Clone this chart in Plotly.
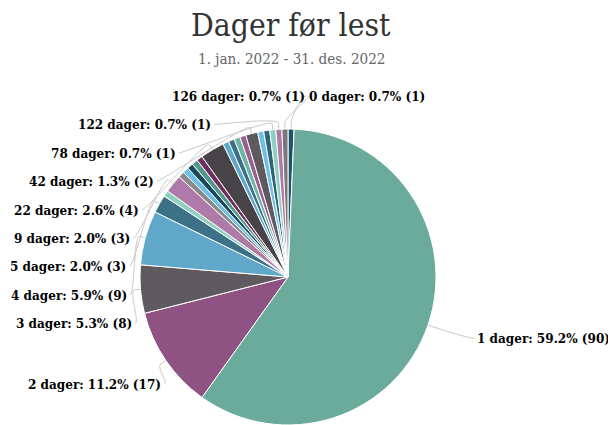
import math
import plotly.graph_objects as go

# ---- data ----
categories = ["0 dager", "1 dager", "2 dager", "3 dager", "4 dager", "5 dager",
              "7 dager", "9 dager", "10 dager", "12 dager", "14 dager", "15 dager",
              "19 dager", "22 dager", "24 dager", "28 dager", "31 dager", "35 dager",
              "42 dager", "56 dager", "63 dager", "78 dager", "122 dager", "126 dager"]
counts = [1, 90, 17, 8, 9, 3,
          1, 3, 1, 1, 1, 1,
          1, 4, 1, 1, 1, 1,
          2, 1, 1, 1, 1, 1]
shown_labels = ["0 dager", "1 dager", "2 dager", "3 dager", "4 dager", "5 dager", "9 dager",
                "22 dager", "42 dager", "78 dager", "122 dager", "126 dager"]

title_text = "Dager før lest"
subtitle_text = "1. jan. 2022 - 31. des. 2022"

# ---- style ----
slice_colors = ["#1f5268", "#6aab9c", "#8e5383", "#5f5a5f", "#5fa8c9", "#3d7188",
                "#8ed0c0", "#b07aa8", "#8a8a8a", "#6cc0e6", "#18485c", "#4f9a86",
                "#6e2f60", "#474347", "#5fa8c9", "#3d7188", "#6fb5a6", "#9a5e90",
                "#5f5a5f", "#6cc0e6", "#2f6478", "#8ed0c0", "#b07aa8", "#7a767a"]
SERIF = "DejaVu Serif Condensed, DejaVu Serif, serif"
BODY = 8                      # default page margin of the html body
W, H = 616 - BODY, 425 - BODY
PIE_CX, PIE_CY, PIE_R = 288, 277, 148   # wanted on screen
LABEL_DIST_X = 31
LABEL_DIST_Y = 41
LABEL_SPACING = 28.4
LEFT_PAD, RIGHT_PAD = 19, 19
CONNECTOR_COLOR = "#c8c8c8"

# pie domain in paper coords (figure coords are screen minus body margin)
dom_x = [(PIE_CX - BODY - PIE_R) / W, (PIE_CX - BODY + PIE_R) / W]
dom_y = [max(0.0, 1 - (PIE_CY - BODY + PIE_R) / H), 1 - (PIE_CY - BODY - PIE_R) / H]

fig = go.Figure(go.Pie(
    labels=categories,
    values=counts,
    sort=False,
    direction="clockwise",
    rotation=0,
    marker=dict(colors=slice_colors, line=dict(color="white", width=1)),
    textinfo="none",
    domain=dict(x=dom_x, y=dom_y),
    showlegend=False,
    hoverinfo="label+value+percent",
))

# ---- data labels (Highcharts-like placement derived from the data) ----
cx = (dom_x[0] + dom_x[1]) / 2 * W
cy = (1 - (dom_y[0] + dom_y[1]) / 2) * H
r = min((dom_x[1] - dom_x[0]) * W, (dom_y[1] - dom_y[0]) * H) / 2
RX = r + LABEL_DIST_X
RY = r + LABEL_DIST_Y
total = sum(counts)

items = []
cum = 0
for name, v in zip(categories, counts):
    phi = (cum + v / 2) / total * 2 * math.pi
    cum += v
    if name not in shown_labels:
        continue
    side = "left" if math.sin(phi) < 0 else "right"
    items.append(dict(name=name, v=v, phi=phi, side=side,
                      ynat=cy - RY * math.cos(phi)))


def distribute(targets, size, lo, hi):
    clusters = [dict(idx=[i], start=t) for i, t in enumerate(targets)]
    changed = True
    while changed:
        changed = False
        for k in range(len(clusters) - 1):
            a, b = clusters[k], clusters[k + 1]
            if a["start"] + len(a["idx"]) * size > b["start"] + 1e-9:
                idx = a["idx"] + b["idx"]
                mean = sum(targets[i] for i in idx) / len(idx)
                start = mean - (len(idx) - 1) * size / 2
                start = max(lo, min(start, hi - (len(idx) - 1) * size))
                clusters[k] = dict(idx=idx, start=start)
                del clusters[k + 1]
                changed = True
                break
        for c in clusters:
            c["start"] = max(lo, min(c["start"], hi - (len(c["idx"]) - 1) * size))
    out = [0] * len(targets)
    for c in clusters:
        for j, i in enumerate(c["idx"]):
            out[i] = c["start"] + j * size
    return out


top_bound = cy - r - 33
bottom_bound = cy + RY + 20
for side in ("left", "right"):
    group = sorted([it for it in items if it["side"] == side], key=lambda d: d["ynat"])
    ys = distribute([it["ynat"] for it in group], LABEL_SPACING, top_bound, bottom_bound)
    for it, y in zip(group, ys):
        it["y"] = y


def px(x, y):
    return x / W, 1 - y / H


shapes = []
for it in items:
    y = it["y"]
    dy = y - cy
    ddx = math.sqrt(max(RX * RX - dy * dy, 0))
    if it["side"] == "left":
        xt = cx - ddx + LEFT_PAD
        x0 = xt + 1
        c1 = x0 + 5
        anchor = "right"
    else:
        xt = cx + ddx + RIGHT_PAD
        x0 = xt - 1
        c1 = x0 - 5
        anchor = "left"
    pct = 100 * it["v"] / total
    fig.add_annotation(text=f"{it['name']}: {pct:.1f}% ({it['v']})",
                       x=xt / W, y=1 - y / H, xref="paper", yref="paper",
                       xanchor=anchor, yanchor="middle", showarrow=False,
                       font=dict(family=SERIF, size=13.4, color="#000000", weight="bold"))
    s, c = math.sin(it["phi"]), math.cos(it["phi"])
    bx, by = cx + (r + 6) * s, cy - (r + 6) * c
    tx, ty = cx + r * s, cy - r * c
    pts = [px(x0, y), px(c1, y), px(2 * bx - tx, 2 * by - ty), px(bx, by), px(tx, ty)]
    path = ("M {0[0]:.5f},{0[1]:.5f} C {1[0]:.5f},{1[1]:.5f} {2[0]:.5f},{2[1]:.5f} "
            "{3[0]:.5f},{3[1]:.5f} L {4[0]:.5f},{4[1]:.5f}").format(*pts)
    shapes.append(dict(type="path", path=path, xref="paper", yref="paper",
                       line=dict(color=CONNECTOR_COLOR, width=1), layer="below"))

# ---- header ----
fig.add_annotation(text=title_text, x=(291 - BODY) / W, y=1 - (25 - BODY) / H,
                   xref="paper", yref="paper", showarrow=False,
                   font=dict(family=SERIF, size=31.6, color="#333333"),
                   xanchor="center", yanchor="middle")
fig.add_annotation(text=subtitle_text, x=(291 - BODY) / W, y=1 - (59 - BODY) / H,
                   xref="paper", yref="paper", showarrow=False,
                   font=dict(family=SERIF, size=15.1, color="#666666"),
                   xanchor="center", yanchor="middle")

fig.update_layout(
    width=W, height=H,
    margin=dict(l=0, r=0, t=0, b=0),
    paper_bgcolor="white",
    plot_bgcolor="white",
    shapes=shapes,
)

fig.write_html("out.html")
